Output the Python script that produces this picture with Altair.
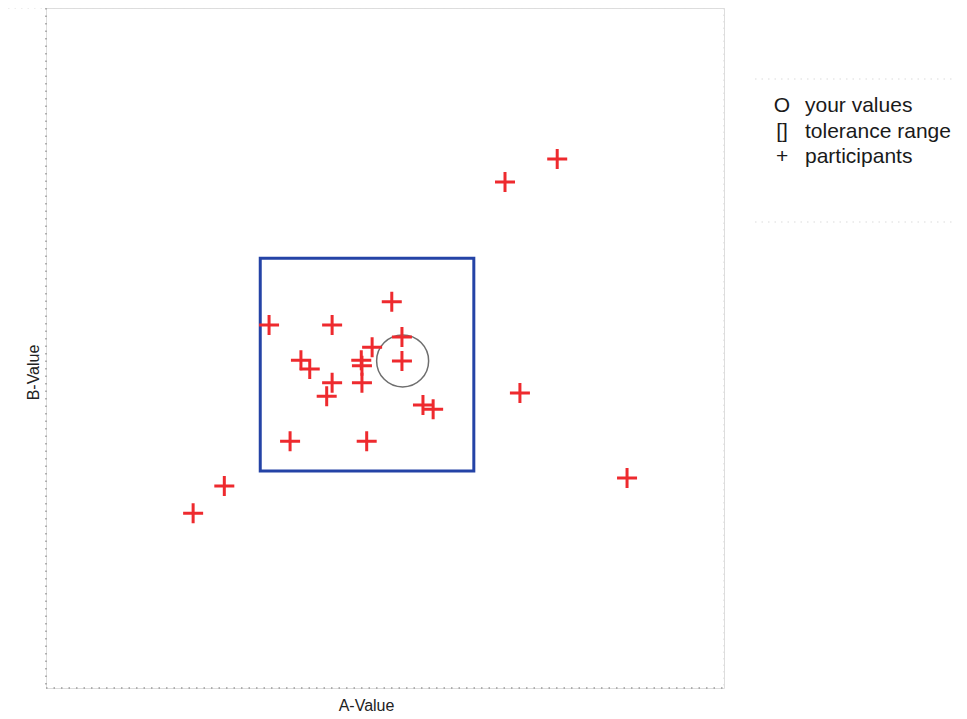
import altair as alt
import pandas as pd

# participants (A-Value, B-Value) on a 0-100 scale
part_a = [32.9, 42.2, 51.0, 52.5, 52.5, 48.1, 46.5, 46.6, 46.6, 37.6, 38.9, 42.2,
          41.4, 55.6, 57.1, 36.0, 47.3, 26.3, 21.7, 67.7, 75.4, 69.9, 85.7]
part_b = [53.4, 53.4, 56.8, 51.6, 48.1, 50.1, 48.2, 47.4, 44.9, 48.2, 46.9, 44.9,
          42.9, 41.6, 41.0, 36.3, 36.3, 29.7, 25.7, 74.4, 77.8, 43.4, 30.9]

# your values
your_a = [52.6]
your_b = [48.1]

# tolerance range
tol_a = [31.6, 63.1]
tol_b = [31.9, 63.2]

legend_symbols = ["O", "[]", "+"]
legend_labels = ["your values", "tolerance range", "participants"]

W, H = 678, 680
FONT = "Liberation Sans"

xs = alt.Scale(domain=[0, 100], nice=False, zero=False)
ys = alt.Scale(domain=[0, 100], nice=False, zero=False)

one = pd.DataFrame({"k": [0]})

# frame lines (dotted)
frame_strong = alt.Chart(one).mark_rule(color="#9a9a9a", strokeDash=[1.5, 6], strokeWidth=1.5)
left = frame_strong.encode(x=alt.value(0), y=alt.value(0), y2=alt.value(H))
bottom = frame_strong.encode(y=alt.value(H), x=alt.value(0), x2=alt.value(W))
frame_faint = alt.Chart(one).mark_rule(color="#dcdcdc", strokeDash=[1.5, 5], strokeWidth=1.2)
top = frame_faint.encode(y=alt.value(0), x=alt.value(-38), x2=alt.value(W))
right = frame_faint.encode(x=alt.value(W), y=alt.value(0), y2=alt.value(H))
leg_top = frame_faint.encode(y=alt.value(71), x=alt.value(709), x2=alt.value(908))
leg_bot = frame_faint.encode(y=alt.value(214), x=alt.value(709), x2=alt.value(908))

tol_df = pd.DataFrame({"a1": [tol_a[0]], "a2": [tol_a[1]], "b1": [tol_b[0]], "b2": [tol_b[1]]})
tol = alt.Chart(tol_df).mark_rect(fillOpacity=0, stroke="#2443a6", strokeWidth=3).encode(
    x=alt.X("a1:Q", scale=xs, axis=alt.Axis(title="A-Value", labels=False, ticks=False, domain=False,
                                             grid=False, titleFont=FONT, titleFontSize=16,
                                             titleFontWeight="normal", titleColor="#222",
                                             titlePadding=9, titleX=320)),
    x2="a2:Q",
    y=alt.Y("b1:Q", scale=ys, axis=alt.Axis(title="B-Value", labels=False, ticks=False, domain=False,
                                             grid=False, titleFont=FONT, titleFontSize=16,
                                             titleFontWeight="normal", titleColor="#222",
                                             titlePadding=5, titleY=364)),
    y2="b2:Q",
)

you_df = pd.DataFrame({"a": your_a, "b": your_b})
you = alt.Chart(you_df).mark_point(shape="circle", size=2704, filled=False, color="#6e6e6e",
                                   strokeWidth=1.5, opacity=1).encode(
    x=alt.X("a:Q", scale=xs), y=alt.Y("b:Q", scale=ys))

part_df = pd.DataFrame({"a": part_a, "b": part_b})
parts = alt.Chart(part_df).mark_point(shape="M-1,0L1,0M0,-1L0,1", size=400, filled=False,
                                      color="#ee2a2e", strokeWidth=3, opacity=1,
                                      strokeCap="butt").encode(
    x=alt.X("a:Q", scale=xs), y=alt.Y("b:Q", scale=ys))

leg_rows = [98, 124, 149]
legend_layers = []
for i in range(len(legend_labels)):
    legend_layers.append(
        alt.Chart(one).mark_text(font=FONT, fontSize=21, color="#1a1a1a", align="center",
                                 baseline="middle").encode(
            text=alt.value(legend_symbols[i]), x=alt.value(736), y=alt.value(leg_rows[i])))
    legend_layers.append(
        alt.Chart(one).mark_text(font=FONT, fontSize=21, color="#1a1a1a", align="left",
                                 baseline="middle").encode(
            text=alt.value(legend_labels[i]), x=alt.value(759), y=alt.value(leg_rows[i])))

chart = alt.layer(left, bottom, top, right, leg_top, leg_bot, tol, you, parts, *legend_layers).properties(
    width=W, height=H,
    autosize=alt.AutoSizeParams(type="none"),
    padding={"left": 38, "top": 0, "right": 230, "bottom": 24},
).configure_view(stroke=None).configure(background="white")

chart.save("out.html", embed_options={"renderer": "svg", "actions": False})
